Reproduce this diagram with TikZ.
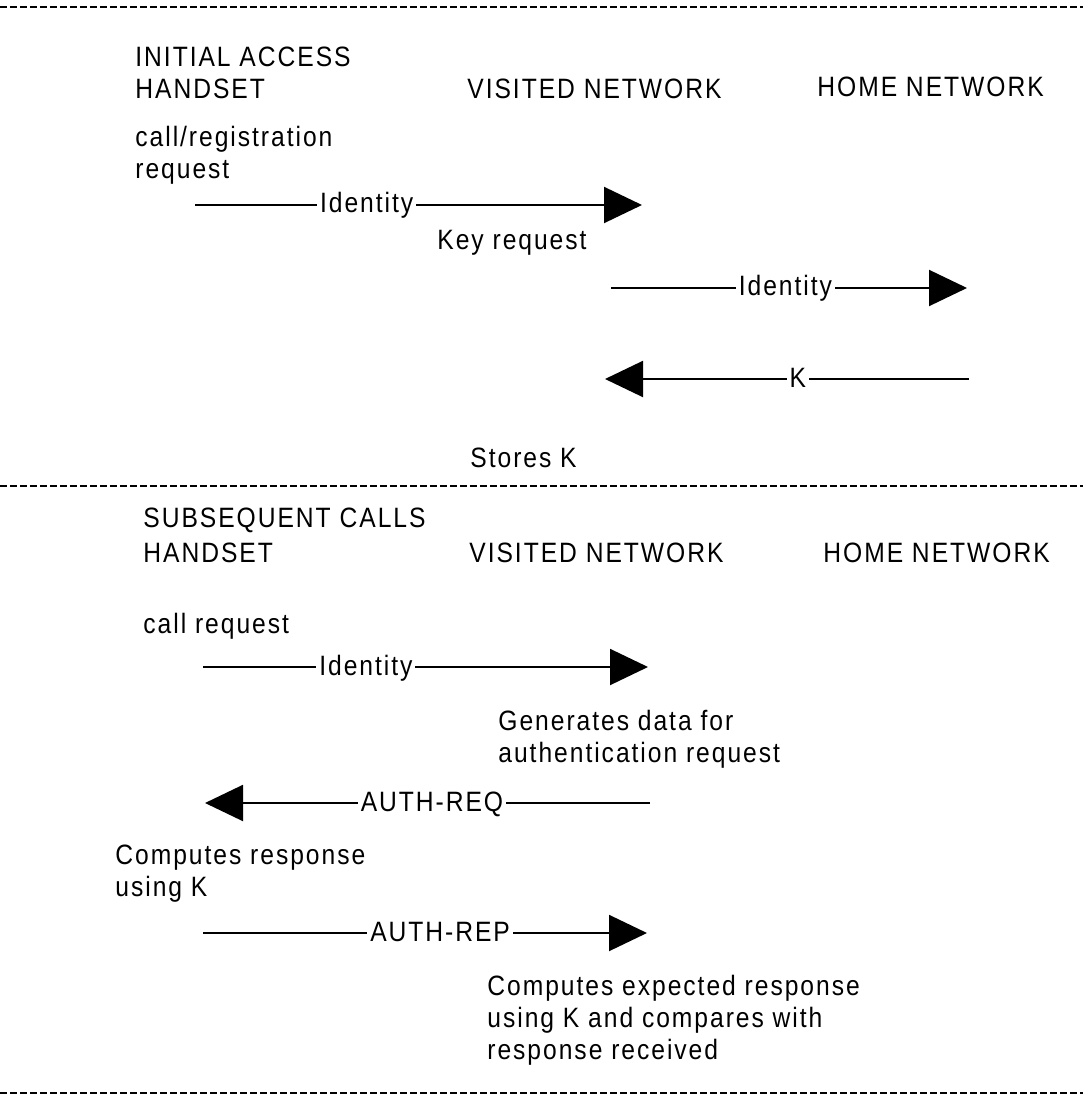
\documentclass[tikz,border=0pt]{standalone}
\usepackage{fontspec}
\setmainfont{Liberation Sans}[FakeStretch=0.88,LetterSpace=7]
\usetikzlibrary{arrows.meta}

\begin{document}
\begin{tikzpicture}[x=0.5pt,y=-0.5pt,font=\fontsize{14}{16}\selectfont,line join=round,
	txt/.style={anchor=base west,inner sep=0pt},
	msg/.style={line width=1pt,-{Triangle[length=19pt,width=18pt]}},
	lbl/.style={fill=white,inner xsep=1.5pt,inner ysep=0pt,anchor=base,yshift=-4pt},
	sep/.style={line width=1pt,dash pattern=on 3.5pt off 1.5pt}]
	\useasboundingbox (0,0) rectangle (1083,1101);
	% separators
	\draw[sep] (0,7)--(1083,7);
	\draw[sep] (0,486)--(1083,486);
	\draw[sep] (0,1093)--(1083,1093);
	% initial access
	\node[txt] (ia1) at (135,67) {INITIAL ACCESS};
	\node[txt] (ia2) at (135,99) {HANDSET};
	\node[txt] (vn1) at (467,99) {VISITED NETWORK};
	\node[txt] (hn1) at (817,97) {HOME NETWORK};
	\node[txt] (creg1) at (135,147) {call/registration};
	\node[txt] (creg2) at (135,179) {request};
	\coordinate (m1s) at (195,205); \coordinate (m1e) at (642,205);
	\draw[msg] (m1s)--node[lbl,pos=0.384]{Identity}(m1e);
	\node[txt] (keyreq) at (437,250) {Key request};
	\coordinate (m2s) at (611,288); \coordinate (m2e) at (967,288);
	\draw[msg] (m2s)--node[lbl,pos=0.49]{Identity}(m2e);
	\coordinate (m3s) at (969,379); \coordinate (m3e) at (605,379);
	\draw[msg] (m3s)--node[lbl,pos=0.47]{K}(m3e);
	\node[txt] (stores) at (470,467) {Stores K};
	% subsequent calls
	\node[txt] (sc1) at (143,527) {SUBSEQUENT CALLS};
	\node[txt] (sc2) at (143,562) {HANDSET};
	\node[txt] (vn2) at (469,562) {VISITED NETWORK};
	\node[txt] (hn2) at (823,562) {HOME NETWORK};
	\node[txt] (creq) at (143,633) {call request};
	\coordinate (m4s) at (203,667); \coordinate (m4e) at (648,667);
	\draw[msg] (m4s)--node[lbl,pos=0.366]{Identity}(m4e);
	\node[txt] (gen1) at (498,730) {Generates data for};
	\node[txt] (gen2) at (498,762) {authentication request};
	\coordinate (m5s) at (650,803); \coordinate (m5e) at (205,803);
	\draw[msg] (m5s)--node[lbl,pos=0.49]{AUTH-REQ}(m5e);
	\node[txt] (cr1) at (115,864) {Computes response};
	\node[txt] (cr2) at (115,896) {using K};
	\coordinate (m6s) at (203,933); \coordinate (m6e) at (647,933);
	\draw[msg] (m6s)--node[lbl,pos=0.534]{AUTH-REP}(m6e);
	\node[txt] (cer1) at (487,995) {Computes expected response};
	\node[txt] (cer2) at (487,1027) {using K and compares with};
	\node[txt] (cer3) at (487,1059) {response received};
\end{tikzpicture}
\end{document}
